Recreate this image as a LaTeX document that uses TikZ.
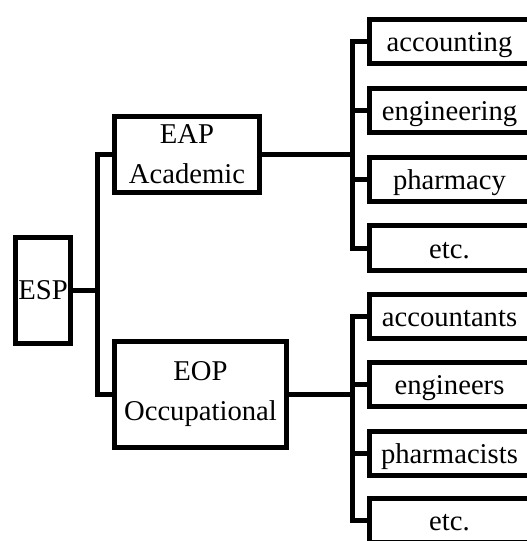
\documentclass[tikz,border=0pt]{standalone}
\usepackage{fontspec}
\setmainfont{Liberation Serif}
\usetikzlibrary{positioning}
\begin{document}
\begin{tikzpicture}[
    x=0.75pt, y=-0.75pt,
    font=\fontsize{21.5}{30}\selectfont,
    kotak/.style={draw, line width=3.75pt, inner sep=0pt},
    bidang/.style={kotak, minimum width=120pt, minimum height=33pt,
                   text height=18pt, text depth=3pt},
    garis/.style={line width=3.75pt}
  ]
    \useasboundingbox (0,0) rectangle (526,541);
    \node[kotak, minimum width=41.25pt, minimum height=79.5pt] (esp) at (43,290.5) {ESP};
    \node[kotak, align=center, minimum width=108.75pt, minimum height=57pt] (eap) at (187,154.5)
      {EAP\\Academic};
    \node[kotak, align=center, minimum width=129pt, minimum height=79.5pt] (eop) at (200.5,394.5)
      {EOP\\Occupational};
    \node[bidang] (akun) at (449.5,42) {accounting};
    \node[bidang] (teknik) at (449.5,111) {engineering};
    \node[bidang] (farmasi) at (449.5,180) {pharmacy};
    \node[bidang] (lainA) at (449.5,248) {etc.};
    \node[bidang] (akuntan) at (449.5,316) {accountants};
    \node[bidang] (insinyur) at (449.5,384) {engineers};
    \node[bidang] (apoteker) at (449.5,453) {pharmacists};
    \node[bidang] (lainO) at (449.5,520) {etc.};
    \coordinate (busE) at (97,0);
    \coordinate (busA) at (352,0);
    \coordinate (busO) at (352,0);
    \draw[garis] (esp.east) -- (esp.east -| busE);
    \draw[garis] (eap.west) -- (eap.west -| busE) -- (eop.west -| busE) -- (eop.west);
    \draw[garis] (akun.west) -- (akun.west -| busA) -- (lainA.west -| busA) -- (lainA.west);
    \draw[garis] (teknik.west) -- (teknik.west -| busA);
    \draw[garis] (farmasi.west) -- (farmasi.west -| busA);
    \draw[garis] (eap.east) -- (eap.east -| busA);
    \draw[garis] (akuntan.west) -- (akuntan.west -| busO) -- (lainO.west -| busO) -- (lainO.west);
    \draw[garis] (insinyur.west) -- (insinyur.west -| busO);
    \draw[garis] (apoteker.west) -- (apoteker.west -| busO);
    \draw[garis] (eop.east) -- (eop.east -| busO);
  \end{tikzpicture}
\end{document}
